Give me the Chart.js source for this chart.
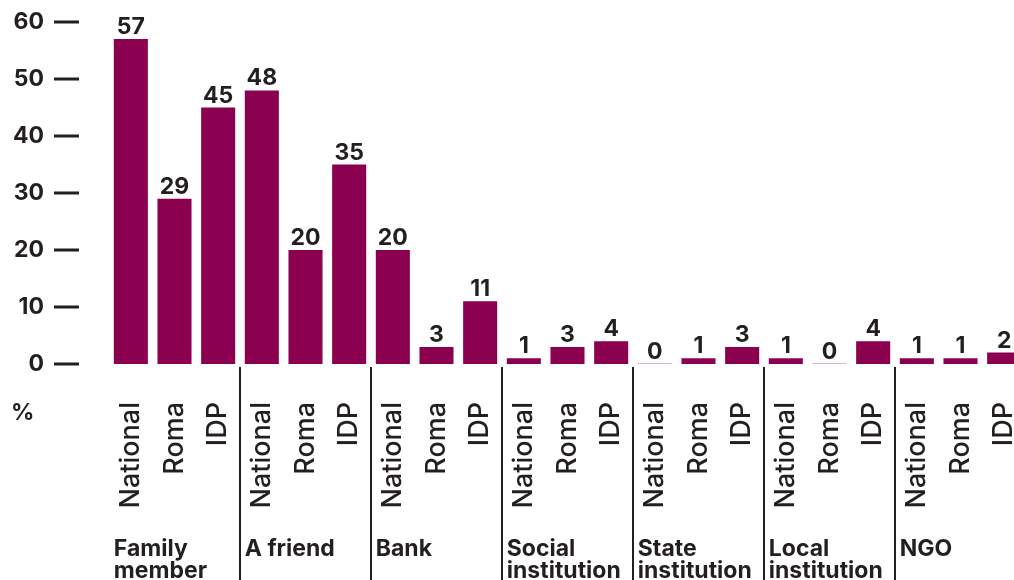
<!DOCTYPE html>
<html>
<head>
<meta charset="utf-8">
<script src="https://cdn.jsdelivr.net/npm/chart.js@4.4.1/dist/chart.umd.min.js"></script>
<style>
  html, body { margin: 0; padding: 0; overflow: hidden; background: #fff; }
</style>
</head>
<body>
<canvas id="myChart" width="1026" height="580"></canvas>
<script>
'use strict';

// who people turn to, by population group (%)
var groups = [['Family', 'member'], ['A friend'], ['Bank'], ['Social', 'institution'],
    ['State', 'institution'], ['Local', 'institution'], ['NGO']];
var populations = ['National', 'Roma', 'IDP'];
var shares = [57, 29, 45, 48, 20, 35, 20, 3, 11, 1, 3, 4, 0, 1, 3, 1, 0, 4, 1, 1, 2];
var yTicks = [0, 10, 20, 30, 40, 50, 60];

var ink = '#231f20';
var plum = '#8c0050';
var fontName = 'Inter, "DejaVu Sans", sans-serif';

var labels = [];
for (var g = 0; g < groups.length; g++) {
    for (var p = 0; p < populations.length; p++) {
        labels.push(populations[p]);
    }
}

// value labels above bars, thin line for zero bars
var barValues = {
    id: 'barValues',
    afterDatasetsDraw: function (chart) {
        var ctx = chart.ctx;
        var meta = chart.getDatasetMeta(0);
        ctx.save();
        ctx.font = 'bold 23px ' + fontName;
        ctx.fillStyle = ink;
        ctx.textAlign = 'center';
        ctx.textBaseline = 'alphabetic';
        for (var i = 0; i < meta.data.length; i++) {
            var bar = meta.data[i];
            if (shares[i] === 0) {
                ctx.fillStyle = '#e6b3cf';
                ctx.fillRect(bar.x - bar.width / 2, bar.y - 1, bar.width, 1);
                ctx.fillStyle = ink;
            }
            ctx.fillText(String(shares[i]), bar.x, bar.y - 5);
        }
        ctx.restore();
    }
};

// tick dashes, % sign, group names and separators
var decorations = {
    id: 'decorations',
    afterDraw: function (chart) {
        var ctx = chart.ctx;
        var y = chart.scales.y;
        var x = chart.scales.x;
        var area = chart.chartArea;
        ctx.save();
        ctx.fillStyle = ink;
        for (var i = 0; i < yTicks.length; i++) {
            var py = Math.round(y.getPixelForValue(yTicks[i]));
            ctx.fillRect(54, py - 1.5, 25, 3);
        }
        ctx.font = 'bold 23px ' + fontName;
        ctx.textAlign = 'left';
        ctx.textBaseline = 'alphabetic';
        ctx.fillText('%', 11, 420);

        var step = x.getPixelForValue(1) - x.getPixelForValue(0);
        var barW = chart.getDatasetMeta(0).data[0].width;
        for (var g = 0; g < groups.length; g++) {
            var first = x.getPixelForValue(g * 3);
            var left = first - barW / 2;
            for (var l = 0; l < groups[g].length; l++) {
                ctx.fillText(groups[g][l], left, 556 + l * 22);
            }
            if (g > 0) {
                var sx = first - step / 2;
                ctx.fillRect(sx - 1, area.bottom + 3, 2, 580 - area.bottom);
            }
        }
        ctx.restore();
    }
};

var ctx = document.getElementById('myChart').getContext('2d');
var chart = new Chart(ctx, {
    type: 'bar',
    data: {
        labels: labels,
        datasets: [{
            data: shares,
            backgroundColor: plum,
            borderWidth: 0,
            categoryPercentage: 1,
            barPercentage: 0.78
        }]
    },
    options: {
        responsive: false,
        animation: false,
        layout: { padding: { top: 22, left: 0, right: 0, bottom: 0 } },
        plugins: {
            legend: { display: false },
            tooltip: { enabled: false }
        },
        scales: {
            x: {
                grid: { display: false, drawTicks: false },
                border: { display: false },
                ticks: {
                    autoSkip: false,
                    minRotation: 90,
                    maxRotation: 90,
                    padding: 38,
                    color: ink,
                    font: { family: fontName, size: 27, weight: '500' }
                },
                afterFit: function (scale) {
                    scale.height = 216;
                    scale.paddingLeft = 0;
                    scale.paddingRight = 0;
                }
            },
            y: {
                min: 0,
                max: 60,
                grid: { display: false, drawTicks: false },
                border: { display: false },
                ticks: {
                    stepSize: 10,
                    padding: 65,
                    color: ink,
                    font: { family: fontName, size: 23, weight: 'bold' }
                },
                afterFit: function (scale) {
                    scale.width = 109;
                    scale.paddingTop = 0;
                    scale.paddingBottom = 0;
                }
            }
        }
    },
    plugins: [barValues, decorations]
});
</script>
</body>
</html>
